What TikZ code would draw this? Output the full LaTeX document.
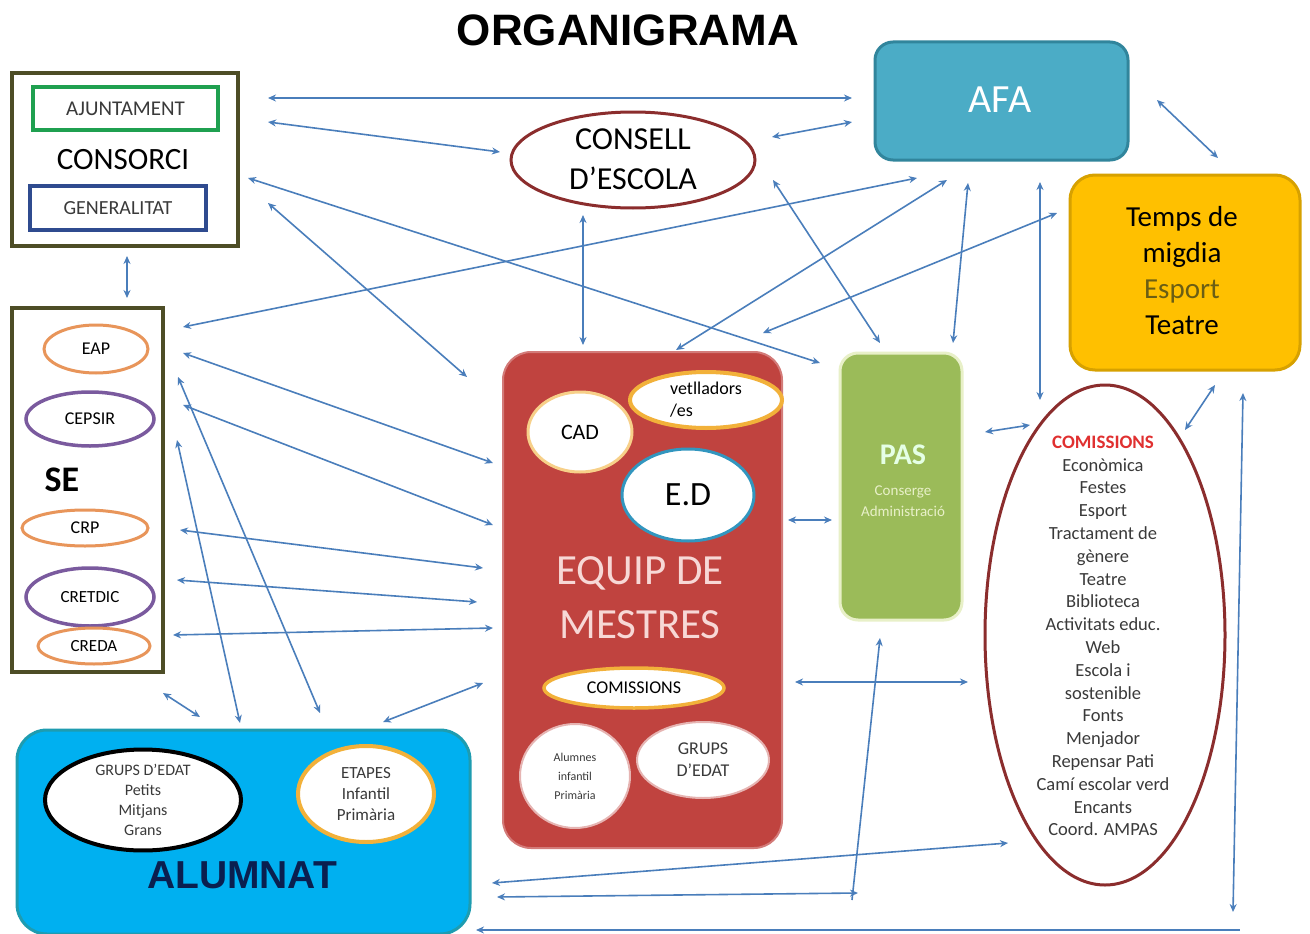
\documentclass[tikz,border=0pt]{standalone}
\usepackage{fontspec}
\setmainfont{Carlito}
\newfontfamily\arialfont{Liberation Sans}
\usetikzlibrary{arrows.meta,shapes.geometric}
\definecolor{arrowblue}{HTML}{4A7EBB}
\definecolor{olivebrd}{HTML}{4D4D26}
\definecolor{ajgreen}{HTML}{1FA050}
\definecolor{genblue}{HTML}{2F4B8F}
\definecolor{darkred}{HTML}{8B2D2D}
\definecolor{afafill}{HTML}{4BACC6}
\definecolor{afabrd}{HTML}{31859C}
\definecolor{tempsfill}{HTML}{FFC000}
\definecolor{tempsbrd}{HTML}{D7A100}
\definecolor{equipfill}{HTML}{C0433F}
\definecolor{pasfill}{HTML}{9BBB59}
\definecolor{pasbrd}{HTML}{E8F0C8}
\definecolor{alumfill}{HTML}{00B0F0}
\definecolor{alumbrd}{HTML}{1E9CB0}
\definecolor{orangebrd}{HTML}{E8955A}
\definecolor{purplebrd}{HTML}{7A5A9E}
\definecolor{glowor}{HTML}{F2B13A}
\definecolor{navytext}{HTML}{0A1F4F}
\definecolor{pinktext}{HTML}{F7D8D6}
\definecolor{esportcol}{HTML}{6B5E14}
\definecolor{comred}{HTML}{E03030}
\definecolor{graytext}{HTML}{3A3A3A}
\newcommand\fsz[1]{\fontsize{#1}{\fpeval{#1*1.2}}\selectfont}
\tikzset{
  conn/.style={draw=arrowblue, line width=1.6pt, arrows={Stealth[length=8pt,width=7pt]-Stealth[length=8pt,width=7pt]}},
  connl/.style={draw=arrowblue, line width=1.6pt, arrows={Stealth[length=8pt,width=7pt]-}},
  rbox/.style={rectangle, rounded corners=#1, inner sep=0pt},
  oval/.style={ellipse, fill=white, inner sep=0pt, align=center},
  fs/.style={font=\fsz{#1}}
}
\begin{document}
\begin{tikzpicture}[x=1pt,y=-1pt]
\useasboundingbox[fill=white] (0,0) rectangle (1310,934);

% title
\node (title) at (628,30) {\arialfont\bfseries\fontsize{44}{50}\selectfont ORGANIGRAMA};

% Consorci
\node (consorci) [draw=olivebrd, line width=4pt, fill=white, minimum width=226pt, minimum height=173pt, inner sep=0pt] at (125,159.5) {};
\node (ajunt) [draw=ajgreen, line width=3.5pt, minimum width=185pt, minimum height=43pt, inner sep=0pt, fs=21, text=graytext] at (125.5,108.5) {AJUNTAMENT};
\node (consorcit) [fs=31] at (123,160) {CONSORCI};
\node (gener) [draw=genblue, line width=3.5pt, minimum width=176pt, minimum height=44pt, inner sep=0pt, fs=20, text=graytext] at (118,208) {GENERALITAT};

% Consell d'escola
\node (consell) [oval, draw=darkred, line width=3pt, minimum width=244pt, minimum height=96pt] at (633,160) {};
\node (consellt) [font=\fontsize{32}{40}\selectfont, align=center] at (633,159) {CONSELL\\D'ESCOLA};

% AFA
\node (afa) [rbox=18pt, fill=afafill, draw=afabrd, line width=3pt, minimum width=253pt, minimum height=118pt] at (1001.5,101) {};
\node (afat) [fs=40, text=white] at (1000,100) {AFA};

% Temps de migdia
\node (temps) [rbox=25pt, fill=tempsfill, draw=tempsbrd, line width=3pt, minimum width=230pt, minimum height=195pt] at (1185,272.5) {};
\node (tempst) [font=\fontsize{29}{36}\selectfont, align=center] at (1182,271) {Temps de\\migdia\\{\color{esportcol}Esport}\\Teatre};

% SE
\node (se) [draw=olivebrd, line width=4pt, fill=white, minimum width=151pt, minimum height=364pt, inner sep=0pt] at (87.5,490) {};
\node (eap) [oval, draw=orangebrd, line width=3pt, minimum width=104pt, minimum height=48pt, fs=18] at (96,349) {EAP};
\node (cepsir) [oval, draw=purplebrd, line width=3.5pt, minimum width=128pt, minimum height=54pt, fs=18] at (90,419) {CEPSIR};
\node (set) [font=\fsz{36}\bfseries] at (62,480) {SE};
\node (crp) [oval, draw=orangebrd, line width=3pt, minimum width=126pt, minimum height=36pt, fs=18] at (85,528) {CRP};
\node (cretdic) [oval, draw=purplebrd, line width=3.5pt, minimum width=128pt, minimum height=58pt, fs=17] at (90,597) {CRETDIC};
\node (creda) [oval, draw=orangebrd, line width=3pt, minimum width=112pt, minimum height=36pt, fs=17] at (94,646) {CREDA};

% Equip de mestres
\node (equip) [rbox=28pt, fill=equipfill, draw=equipfill!70!white, line width=2pt, minimum width=279pt, minimum height=496pt] at (642.5,600) {};
\node (vetll) [oval, draw=glowor, line width=4pt, minimum width=152pt, minimum height=56pt, align=left, font=\fontsize{18}{22}\selectfont] at (706,400) {vetlladors\\/es};
\node (cad) [oval, draw=glowor!60!white, line width=3pt, minimum width=104pt, minimum height=80pt, fs=22] at (580,432) {CAD};
\node (ed) [oval, draw=cyan!50!teal, line width=3pt, minimum width=132pt, minimum height=92pt, fs=34] at (688,495) {E.D};
\node (equipt) [font=\fontsize{43}{54}\selectfont, text=pinktext, align=center] at (640,598) {EQUIP DE\\MESTRES};
\node (comeq) [oval, draw=glowor, line width=3.5pt, minimum width=180pt, minimum height=40pt, fs=18] at (634,688) {COMISSIONS};
\node (alumeq) [oval, draw=equipfill!40!white, line width=2pt, minimum width=110pt, minimum height=104pt, font=\fontsize{12}{19}\selectfont, text=graytext] at (575,776) {Alumnes\\infantil\\Primària};
\node (grupseq) [oval, draw=equipfill!40!white, line width=2pt, minimum width=132pt, minimum height=76pt, font=\fontsize{18}{22}\selectfont, text=graytext] at (703,760) {GRUPS\\D'EDAT};

% PAS
\node (pas) [rbox=18pt, fill=pasfill, draw=pasbrd, line width=3pt, minimum width=122pt, minimum height=267pt] at (901,486.5) {};
\node (past) [font=\fsz{30}\bfseries, text=white!90!green] at (903,455) {PAS};
\node (passub) [font=\fontsize{15}{21}\selectfont, text=pasbrd, align=center] at (903,501) {Conserge\\Administració};

% Comissions
\node (comis) [ellipse, draw=darkred, line width=3pt, fill=white, minimum width=240pt, minimum height=500pt, inner sep=0pt] at (1105,635) {};
\node (comist) [text=graytext, align=center, font=\fontsize{18.5}{22.8}\selectfont] at (1103,636) {{\color{comred}\fontsize{19}{22.8}\selectfont\bfseries COMISSIONS}\\Econòmica\\Festes\\Esport\\Tractament de\\gènere\\Teatre\\Biblioteca\\Activitats educ.\\Web\\Escola i\\sostenible\\Fonts\\Menjador\\Repensar Pati\\Camí escolar verd\\Encants\\Coord. AMPAS};

% Alumnat
\node (alumnat) [rbox=30pt, fill=alumfill, draw=alumbrd, line width=3pt, minimum width=453pt, minimum height=204pt] at (243.5,832) {};
\node (grupsal) [oval, draw=black, line width=4pt, minimum width=196pt, minimum height=86pt, font=\fontsize{16}{20}\selectfont, text=graytext] at (143,800) {GRUPS D'EDAT\\Petits\\Mitjans\\Grans};
\node (etapes) [oval, draw=glowor, line width=4pt, minimum width=136pt, minimum height=96pt, font=\fontsize{17}{21}\selectfont, text=graytext] at (366,794) {ETAPES\\Infantil\\Primària};
\node (alumt) [text=navytext] at (242,875) {\arialfont\bfseries\fontsize{39}{44}\selectfont ALUMNAT};

% connector end points
\coordinate (p1a) at (268,98);   \coordinate (p1b) at (852,98);
\coordinate (p2a) at (268,122);  \coordinate (p2b) at (500,152);
\coordinate (p3a) at (772,137);  \coordinate (p3b) at (852,122);
\coordinate (p4a) at (1157,100); \coordinate (p4b) at (1218,158);
\coordinate (p5a) at (127,256);  \coordinate (p5b) at (127,298);
\coordinate (p6a) at (248,178);  \coordinate (p6b) at (820,363);
\coordinate (p7a) at (268,203);  \coordinate (p7b) at (467,377);
\coordinate (p8a) at (183,327);  \coordinate (p8b) at (917,178);
\coordinate (p9a) at (583,215);  \coordinate (p9b) at (583,345);
\coordinate (p10a) at (773,180); \coordinate (p10b) at (880,343);
\coordinate (p11a) at (676,350); \coordinate (p11b) at (947,180);
\coordinate (p12a) at (968,183); \coordinate (p12b) at (953,343);
\coordinate (p13a) at (763,333); \coordinate (p13b) at (1057,213);
\coordinate (p14a) at (1040,182);\coordinate (p14b) at (1040,400);
\coordinate (p15a) at (985,432); \coordinate (p15b) at (1030,425);
\coordinate (p16a) at (1215,385);\coordinate (p16b) at (1185,430);
\coordinate (p17a) at (1243,393);\coordinate (p17b) at (1233,912);
\coordinate (p18a) at (183,353); \coordinate (p18b) at (493,463);
\coordinate (p19a) at (183,405); \coordinate (p19b) at (493,525);
\coordinate (p20a) at (180,530); \coordinate (p20b) at (483,568);
\coordinate (p21a) at (177,580); \coordinate (p21b) at (477,602);
\coordinate (p22a) at (173,635); \coordinate (p22b) at (493,628);
\coordinate (p23a) at (163,693); \coordinate (p23b) at (200,717);
\coordinate (p24a) at (178,377); \coordinate (p24b) at (320,713);
\coordinate (p25a) at (177,440); \coordinate (p25b) at (240,723);
\coordinate (p26a) at (383,722); \coordinate (p26b) at (483,683);
\coordinate (p27a) at (788,520); \coordinate (p27b) at (832,520);
\coordinate (p28a) at (795,682); \coordinate (p28b) at (968,682);
\coordinate (p29a) at (492,883); \coordinate (p29b) at (1008,843);
\coordinate (p30a) at (497,897); \coordinate (p30b) at (858,893);
\coordinate (p31a) at (880,638); \coordinate (p31b) at (852,900);
\coordinate (p32a) at (476,930); \coordinate (p32b) at (1240,930);

\foreach \i in {1,...,30} {\draw[conn] (p\i a) -- (p\i b);}
\draw[connl] (p31a) -- (p31b);
\draw[connl] (p32a) -- (p32b);
\end{tikzpicture}
\end{document}
